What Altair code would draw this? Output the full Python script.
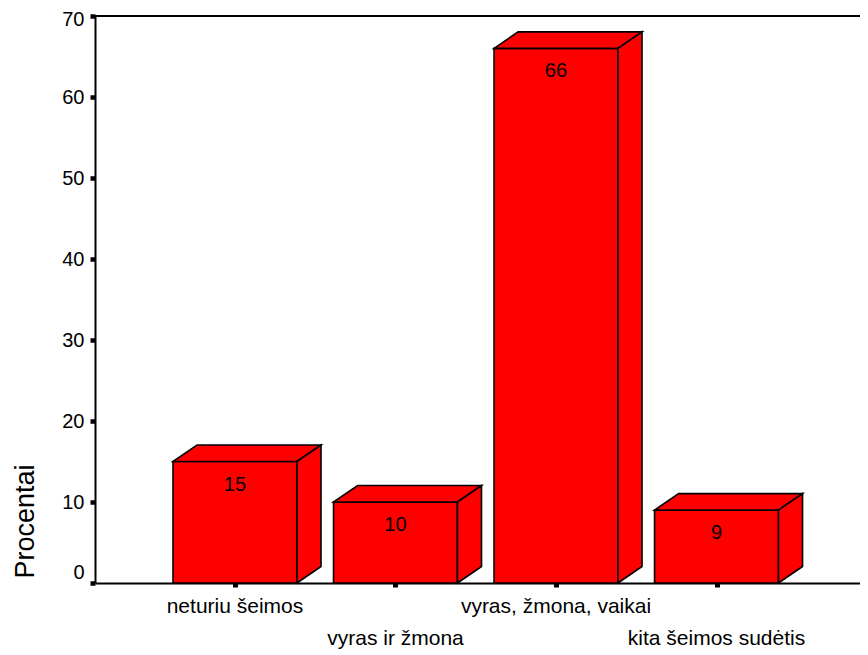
import altair as alt
import pandas as pd

# ---- data ----
categories = ["neturiu šeimos", "vyras ir žmona", "vyras, žmona, vaikai", "kita šeimos sudėtis"]
values = [15, 10, 66, 9]
y_ticks = [0, 10, 20, 30, 40, 50, 60, 70]

# ---- 3D bar geometry (style constants, in data units) ----
HALF = 0.386   # half width of the front face
DX = 0.15      # depth offset along x
DY = 2.04      # depth offset along y
FONT = "Liberation Sans"
RED = "#FF0000"

idx = list(range(len(categories)))

front = pd.DataFrame({
    "x": [i - HALF for i in idx],
    "xe": [i + HALF for i in idx],
    "lo": [0 for _ in idx],
    "hi": values,
    "label": [str(v) for v in values],
    "c": idx,
})

top_rows = []
side_rows = []
for i, v in zip(idx, values):
    x0, x1 = i - HALF, i + HALF
    top_rows += [
        {"bar": i, "x": x0, "lo": v, "hi": v},
        {"bar": i, "x": x0 + DX, "lo": v, "hi": v + DY},
        {"bar": i, "x": x1, "lo": v, "hi": v + DY},
        {"bar": i, "x": x1 + DX, "lo": v + DY, "hi": v + DY},
    ]
    side_rows += [
        {"bar": i, "x": x1, "lo": 0, "hi": v},
        {"bar": i, "x": x1 + DX, "lo": DY, "hi": v + DY},
    ]
top = pd.DataFrame(top_rows)
side = pd.DataFrame(side_rows)

labels_df = pd.DataFrame({"x": idx, "name": categories, "row": [i % 2 for i in idx]})

xs = alt.Scale(domain=[-0.872, 3.894], nice=False, zero=False)
ys = alt.Scale(domain=[0, 70], nice=False, zero=True)

xaxis = alt.Axis(values=idx, labels=False, title=None, grid=False,
                 tickSize=4, tickWidth=5, tickColor="black",
                 domainWidth=2, domainColor="black")
yaxis = alt.Axis(values=y_ticks, grid=False, title="Procentai",
                 tickSize=5, tickWidth=4.5, tickColor="black",
                 domainWidth=2, domainColor="black",
                 labelFont=FONT, labelFontSize=20, labelColor="black", labelPadding=6,
                 labelOffset={"condition": [{"test": "datum.value === 0", "value": -11},
                                            {"test": "datum.value === 70", "value": 3}],
                              "value": 0},
                 titleFont=FONT, titleFontSize=27, titleFontWeight="normal", titleColor="black",
                 titleX=-70, titleY=505, titleAngle=-90, titleAlign="center", titleBaseline="middle")

X = alt.X("x:Q", scale=xs, axis=xaxis)
Y = alt.Y("lo:Q", scale=ys, axis=yaxis)

front_layer = alt.Chart(front).mark_rect(color=RED, stroke="black", strokeWidth=1.6).encode(
    x=X, x2=alt.X2("xe:Q"), y=Y, y2=alt.Y2("hi:Q"), detail="c:N")

top_layer = alt.Chart(top).mark_area(color=RED, stroke="black", strokeWidth=1.6,
                                     interpolate="linear", orient="vertical").encode(
    x=X, y=Y, y2=alt.Y2("hi:Q"), detail="bar:N")

side_layer = alt.Chart(side).mark_area(color=RED, stroke="black", strokeWidth=1.6,
                                       interpolate="linear", orient="vertical").encode(
    x=X, y=Y, y2=alt.Y2("hi:Q"), detail="bar:N")

value_text = alt.Chart(front).mark_text(font=FONT, fontSize=20, color="black",
                                        baseline="middle", dy=23).encode(
    x=alt.X("c:Q", scale=xs, axis=xaxis),
    y=alt.Y("hi:Q", scale=ys, axis=yaxis),
    text="label:N")

top_rule = alt.Chart(front).mark_rule(color="black", strokeWidth=1.6).encode(
    y=alt.datum(70))

row1 = alt.Chart(labels_df).transform_filter("datum.row == 0").mark_text(
    font=FONT, fontSize=21, color="black", baseline="alphabetic").encode(
    x=alt.X("x:Q", scale=xs, axis=xaxis), y=alt.value(597), text="name:N")
row2 = alt.Chart(labels_df).transform_filter("datum.row == 1").mark_text(
    font=FONT, fontSize=21, color="black", baseline="alphabetic").encode(
    x=alt.X("x:Q", scale=xs, axis=xaxis), y=alt.value(629), text="name:N")

chart = alt.layer(top_rule, front_layer, top_layer, side_layer, value_text, row1, row2).properties(
    width=765, height=567,
    autosize=alt.AutoSizeParams(type="none"),
    padding={"left": 87, "top": 8, "right": 0, "bottom": 71},
    background="white",
).configure_view(stroke=None)

chart.save("out.html", embed_options={"renderer": "svg", "actions": False})
